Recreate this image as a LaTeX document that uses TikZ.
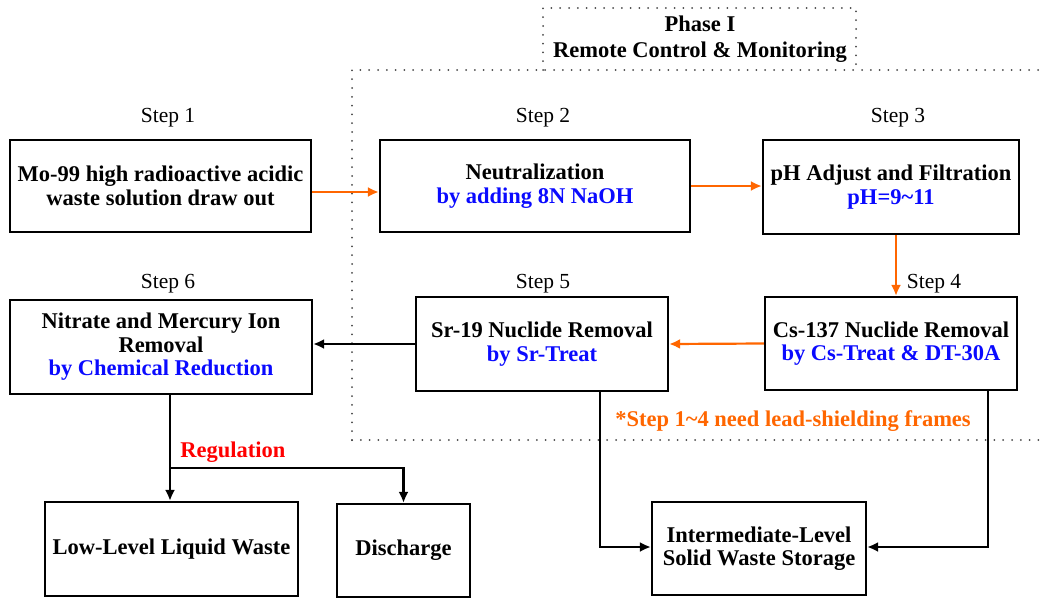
\documentclass[tikz,border=0pt]{standalone}
\usepackage{fontspec}
\setmainfont{Liberation Serif}
\usetikzlibrary{arrows.meta}

\definecolor{flowOrange}{RGB}{255,102,0}
\definecolor{noteBlue}{RGB}{10,10,255}
\definecolor{dotGray}{RGB}{70,70,70}

\begin{document}
\begin{tikzpicture}[x = 1pt, y = -1pt, > = {Latex[length = 11pt, width = 10pt]},
	box/.style = {draw, line width = 2.2pt, align = center, inner sep = 0pt,
		font = \fontsize{22.5}{23.5}\selectfont\bfseries},
	steplabel/.style = {font = \fontsize{21.5}{23}\selectfont},
	flow/.style = {->, line width = 2.2pt, flowOrange},
	plain/.style = {->, line width = 2.2pt, black},
	region/.style = {dotGray, line width = 2pt, dash pattern = on 0pt off 8.8pt, line cap = round}]

	% Page size

	\useasboundingbox (0, 0) rectangle (1041, 597);

	% Phase I remote area

	\draw [region] (352, 440) -- (352, 70) -- (1041, 70);
	\draw [region] (352, 440) -- (1041, 440);
	\draw [region] (543, 70) -- (543, 8) -- (856, 8) -- (856, 70);
	\node [align = center, font = \fontsize{22.5}{26}\selectfont\bfseries] (phase) at (700, 39)
		{Phase I\\Remote Control \& Monitoring};

	% Process boxes

	\node [box, minimum width = 301pt, minimum height = 92pt] (s1) at (160.5, 186)
		{Mo-99 high radioactive acidic\\waste solution draw out};
	\node [box, minimum width = 310pt, minimum height = 92pt] (s2) at (535, 186)
		{Neutralization\\\textcolor{noteBlue}{by adding 8N NaOH}};
	\node [box, minimum width = 256pt, minimum height = 94pt] (s3) at (891, 187)
		{pH Adjust and Filtration\\\textcolor{noteBlue}{pH=9\char`~11}};
	\node [box, minimum width = 252pt, minimum height = 93pt] (s4) at (891, 343.5)
		{Cs-137 Nuclide Removal\\\textcolor{noteBlue}{by Cs-Treat \& DT-30A}};
	\node [box, minimum width = 252pt, minimum height = 94pt] (s5) at (542, 344)
		{Sr-19 Nuclide Removal\\\textcolor{noteBlue}{by Sr-Treat}};
	\node [box, minimum width = 302pt, minimum height = 94pt] (s6) at (161, 347)
		{Nitrate and Mercury Ion\\Removal\\\textcolor{noteBlue}{by Chemical Reduction}};

	% End points

	\node [box, minimum width = 253pt, minimum height = 94pt] (low) at (171.5, 549)
		{Low-Level Liquid Waste};
	\node [box, minimum width = 133pt, minimum height = 93pt] (dis) at (403.5, 550.5)
		{Discharge};
	\node [box, minimum width = 214pt, minimum height = 93pt] (mid) at (759, 548.5)
		{Intermediate-Level\\Solid Waste Storage};

	% Step labels

	\foreach \n/\x/\y in {1/168/118, 2/543/118, 3/898/118, 4/934/284, 5/543/284, 6/168/284}
	{
		\node [steplabel] (lab\n) at (\x, \y) {Step \n};
	}

	% Orange flow of the shielded steps

	\draw [flow] ([yshift = -6pt]s1.east) -- ([yshift = -6pt]s2.west);
	\draw [flow] (s2.east) -- (s2.east -| s3.west);
	\draw [flow] ([xshift = 5pt]s3.south) -- ([xshift = 5pt]s4.north);
	\draw [flow] (s4.west) -- (s5.east);

	% Black flow to the outlets

	\draw [plain] (s5.west) -- (s5.west -| s6.east);
	\draw [plain] ([xshift = 58pt]s5.south) |- ([yshift = 1.5pt]mid.west);
	\draw [plain] ([xshift = 97pt]s4.south) |- ([yshift = 1.5pt]mid.east);
	\coordinate (split) at (170, 468);
	\draw [plain] (s6.south -| split) -- (split |- low.north);
	\draw [plain] (split) -| (dis.north);

	% Notes

	\node [font = \fontsize{22.5}{24}\selectfont\bfseries, red] (reg) at (233, 452) {Regulation};
	\node [font = \fontsize{22.5}{24}\selectfont\bfseries, flowOrange] (note) at (793, 421)
		{*Step 1\char`~4 need lead-shielding frames};

\end{tikzpicture}
\end{document}
